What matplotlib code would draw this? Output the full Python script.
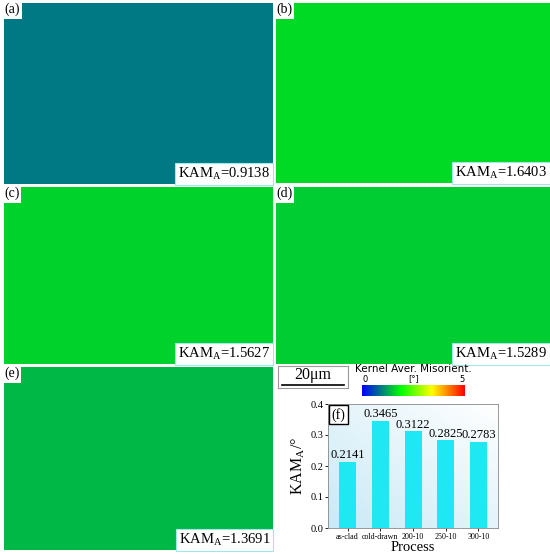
import numpy as np
import matplotlib
matplotlib.use("Agg")
import matplotlib.pyplot as plt
from matplotlib.colors import LinearSegmentedColormap

# valores medios de KAM de cada mapa (a)-(e)
panel_labels = ["(a)", "(b)", "(c)", "(d)", "(e)"]
kam_maps = [0.9138, 1.6403, 1.5627, 1.5289, 1.3691]

# grafico de barras (f)
procesos = ["as-clad", "cold-drawn", "200-10", "250-10", "300-10"]
kam_barras = [0.2141, 0.3465, 0.3122, 0.2825, 0.2783]
y_ticks = [0.0, 0.1, 0.2, 0.3, 0.4]

W, H = 550, 554
SERIF = "Liberation Serif"

kam_cmap = LinearSegmentedColormap.from_list(
    "kam", [(0.0, "#0000ff"), (0.38, "#00ff00"), (0.68, "#ffff00"), (1.0, "#ff0000")])


def ejes(x0, y0, x1, y1):
    return fig.add_axes([x0 / W, 1 - y1 / H, (x1 - x0) / W, (y1 - y0) / H])


fig = plt.figure(figsize=(W / 100, H / 100), dpi=100)

# posiciones de los mapas en pixeles
cajas = [(4, 3, 273, 184), (276, 3, 550, 183), (4, 187, 273, 364),
         (276, 187, 550, 364), (4, 367, 273, 550)]

for caja, lab, kam in zip(cajas, panel_labels, kam_maps):
    ax = ejes(*caja)
    ax.imshow([[kam]], cmap=kam_cmap, vmin=0, vmax=5, aspect="auto",
              extent=[0, 1, 0, 1])
    ax.set_xlim(0, 1)
    ax.set_ylim(0, 1)
    ax.set_xticks([])
    ax.set_yticks([])
    for s in ax.spines.values():
        s.set_visible(False)
    ax.text(0.0, 1.0, lab, transform=ax.transAxes, ha="left", va="top",
            fontsize=10, family=SERIF,
            bbox=dict(boxstyle="square,pad=0.15", fc="white", ec="none"))
    ax.text(0.99, 0.01, "KAM$_\\mathregular{A}$=%.4f" % kam, transform=ax.transAxes,
            ha="right", va="bottom", fontsize=10.5, family=SERIF,
            bbox=dict(boxstyle="square,pad=0.2", fc="white", ec="#9ee8e8", lw=0.8))

# barra de escala
ax_sb = ejes(278, 366, 348, 388)
ax_sb.set_xticks([])
ax_sb.set_yticks([])
for s in ax_sb.spines.values():
    s.set_color("#999999")
ax_sb.text(0.5, 0.6, "20μm", ha="center", va="center", fontsize=11.5, family=SERIF,
           transform=ax_sb.transAxes)
ax_sb.plot([0.06, 0.94], [0.15, 0.15], color="black", lw=1.2, transform=ax_sb.transAxes)

# barra de color
ax_cb = ejes(362, 385, 465, 396)
ax_cb.imshow(np.linspace(0, 5, 256)[None, :], cmap=kam_cmap, vmin=0, vmax=5,
             aspect="auto", extent=[0, 5, 0, 1])
ax_cb.set_yticks([])
ax_cb.xaxis.tick_top()
ax_cb.set_xticks([0.15, 2.5, 4.85])
ax_cb.set_xticklabels(["0", "[°]", "5"], fontsize=6)
ax_cb.tick_params(axis="x", length=0, pad=1)
for s in ax_cb.spines.values():
    s.set_visible(False)
ax_cb.set_title("Kernel Aver. Misorient.", fontsize=7.5, pad=9)

# grafico de barras (f)
ax = ejes(328, 404, 498, 528)
grad = np.add.outer(np.linspace(0, 1, 100), np.linspace(0, 1, 100)) / 2
fondo = LinearSegmentedColormap.from_list("fondo", ["#c9e9f6", "#ffffff"])
ax.imshow(grad, cmap=fondo, aspect="auto", extent=[-0.6, 4.6, 0, 0.4],
          origin="lower", zorder=0)
x = np.arange(len(procesos))
ax.bar(x, kam_barras, width=0.52, color="#1fe8f2", zorder=2)
for xi, v in zip(x, kam_barras):
    ax.text(xi, v + 0.002, "%.4f" % v, ha="center", va="bottom", fontsize=9,
            family=SERIF, zorder=3)
ax.set_xlim(-0.6, 4.6)
ax.set_ylim(0, 0.4)
ax.set_yticks(y_ticks)
ax.set_yticklabels(["%.1f" % t for t in y_ticks], family=SERIF, fontsize=7.5)
ax.set_xticks(x)
ax.set_xticklabels(procesos, family=SERIF, fontsize=5.8)
ax.tick_params(length=2, width=0.6, pad=1.5)
for s in ax.spines.values():
    s.set_color("#888888")
    s.set_linewidth(0.6)
ax.set_xlabel("Process", family=SERIF, fontsize=10.5, labelpad=0)
ax.set_ylabel("KAM$_\\mathregular{A}$/°", family=SERIF, fontsize=11.5, labelpad=2)
ax.text(0.02, 0.97, "(f)", transform=ax.transAxes, ha="left", va="top",
        fontsize=10, family=SERIF, zorder=4,
        bbox=dict(boxstyle="square,pad=0.2", fc="white", ec="black", lw=1))

fig.savefig("out.png", dpi=100)
